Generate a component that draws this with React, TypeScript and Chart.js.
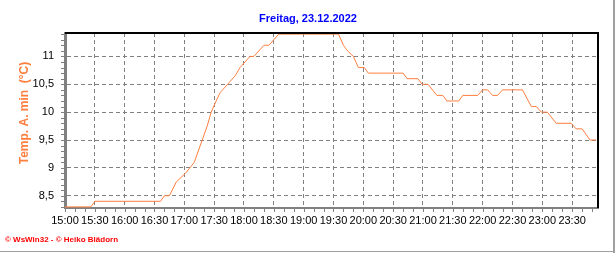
import React, { useEffect, useRef } from "react";
import { Chart, registerables } from "chart.js";

Chart.register(...registerables);

const titleText = "Freitag, 23.12.2022";
const yAxisTitle = "Temp. A. min  (°C)";
const footerText = "© WsWin32 - © Heiko Blädorn";

const startTime = "15:00";
const endTime = "23:56";

const times = [
  "15:00", "15:26", "15:30", "16:36", "16:40", "16:45", "16:52", "17:01", "17:10", "17:18",
  "17:23", "17:27", "17:32", "17:36", "17:41", "17:46", "17:51", "17:56", "18:01", "18:06",
  "18:10", "18:20", "18:25", "18:30", "18:35", "19:35", "19:40", "19:44", "19:50", "19:55",
  "20:01", "20:05", "20:40", "20:44", "20:55", "20:59", "21:05", "21:14", "21:20", "21:24",
  "21:36", "21:40", "21:55", "22:00", "22:05", "22:10", "22:15", "22:20", "22:40", "22:49",
  "22:54", "22:59", "23:05", "23:14", "23:29", "23:34", "23:40", "23:48", "23:54",
];

const tempMin = [
  8.3, 8.3, 8.4, 8.4, 8.5, 8.5, 8.75, 8.9, 9.1, 9.5,
  9.75, 10.0, 10.2, 10.35, 10.45, 10.55, 10.65, 10.8, 10.9, 11.0,
  11.0, 11.2, 11.2, 11.3, 11.4, 11.4, 11.2, 11.1, 11.0, 10.8,
  10.8, 10.7, 10.7, 10.6, 10.6, 10.5, 10.5, 10.3, 10.3, 10.2,
  10.2, 10.3, 10.3, 10.4, 10.4, 10.3, 10.3, 10.4, 10.4, 10.1,
  10.1, 10.0, 10.0, 9.8, 9.8, 9.7, 9.7, 9.5, 9.5,
];

const xTickLabels = [
  "15:00", "15:30", "16:00", "16:30", "17:00", "17:30", "18:00", "18:30", "19:00",
  "19:30", "20:00", "20:30", "21:00", "21:30", "22:00", "22:30", "23:00", "23:30",
];

const yTicks = [8.5, 9, 9.5, 10, 10.5, 11];
const yMin = 8.28;
const yMax = 11.42;

const toMin = (t: string) => {
  const [h, m] = t.split(":").map(Number);
  const [h0, m0] = startTime.split(":").map(Number);
  return h * 60 + m - (h0 * 60 + m0);
};

const FONT = "'Liberation Sans', Arial, sans-serif";
const ORANGE = "#ff7f3f";
const GRAY = "#808080";

const decorPlugin = {
  id: "decor",
  afterDraw(chart: any) {
    const { ctx, chartArea } = chart;
    const { left, right, top, bottom } = chartArea;
    const xs = chart.scales.x;
    const ys = chart.scales.y;
    ctx.save();
    ctx.strokeStyle = GRAY;
    ctx.lineWidth = 1;
    ctx.beginPath();
    for (let m = 0; m <= xs.max; m += 10) {
      const px = Math.round(xs.getPixelForValue(m)) + 0.5;
      ctx.moveTo(px, bottom);
      ctx.lineTo(px, bottom + 4);
    }
    for (let v = 8.3; v <= yMax + 1e-6; v += 0.1) {
      const py = Math.round(ys.getPixelForValue(v)) + 0.5;
      ctx.moveTo(left - 4, py);
      ctx.lineTo(left, py);
    }
    ctx.stroke();
    ctx.strokeStyle = "#000";
    ctx.lineWidth = 2;
    ctx.beginPath();
    ctx.moveTo(left, top);
    ctx.lineTo(right, top);
    ctx.lineTo(right, bottom);
    ctx.stroke();
    ctx.fillStyle = "#0000ff";
    ctx.font = `bold 11px ${FONT}`;
    ctx.textAlign = "center";
    ctx.textBaseline = "middle";
    ctx.fillText(titleText, 308, 19);
    ctx.save();
    ctx.translate(25, 113);
    ctx.rotate(-Math.PI / 2);
    ctx.fillStyle = ORANGE;
    ctx.font = `bold 12px ${FONT}`;
    ctx.fillText(yAxisTitle, 0, 0);
    ctx.restore();
    ctx.fillStyle = "#ff0000";
    ctx.font = `bold 8px ${FONT}`;
    ctx.textAlign = "left";
    ctx.fillText(footerText, 5, 239.5);
    ctx.fillStyle = "#a0a0a0";
    ctx.fillRect(613, 0, 2, 253);
    ctx.fillRect(0, 251, 615, 1);
    ctx.restore();
  },
};

export default function App() {
  const ref = useRef<HTMLCanvasElement>(null);
  useEffect(() => {
    if (!ref.current) return;
    const data = times.map((t, i) => ({ x: toMin(t), y: tempMin[i] }));
    const chart = new Chart(ref.current, {
      type: "line",
      data: {
        datasets: [
          {
            data,
            borderColor: ORANGE,
            borderWidth: 1,
            pointRadius: 0,
            tension: 0,
            fill: false,
          },
        ],
      },
      plugins: [decorPlugin],
      options: {
        animation: false,
        responsive: false,
        maintainAspectRatio: false,
        layout: { padding: { top: 33, right: 18, left: 0, bottom: 0 } },
        plugins: { legend: { display: false }, title: { display: false }, tooltip: { enabled: false } },
        scales: {
          x: {
            type: "linear",
            min: 0,
            max: toMin(endTime),
            afterBuildTicks: (s: any) => {
              s.ticks = xTickLabels.map((l) => ({ value: toMin(l) }));
            },
            afterFit: (s: any) => {
              s.height = 45;
            },
            ticks: {
              autoSkip: false,
              maxRotation: 0,
              padding: 6,
              color: "#000",
              font: { family: FONT, size: 11 },
              callback: (v: any, i: number) => xTickLabels[i],
            },
            grid: { color: GRAY, lineWidth: 1, drawTicks: false },
            border: { color: GRAY, width: 2, dash: [4, 3] },
          },
          y: {
            min: yMin,
            max: yMax,
            afterBuildTicks: (s: any) => {
              s.ticks = yTicks.map((v) => ({ value: v }));
            },
            afterFit: (s: any) => {
              s.width = 65;
            },
            ticks: {
              padding: 11,
              color: "#000",
              font: { family: FONT, size: 11 },
              callback: (v: any) => String(v).replace(".", ","),
            },
            grid: { color: GRAY, lineWidth: 1, drawTicks: false },
            border: { color: GRAY, width: 3, dash: [4, 3] },
          },
        },
      },
    });
    return () => chart.destroy();
  }, []);
  return (
    <div style={{ position: "absolute", left: 0, top: 0, width: 616, height: 253, background: "#fff" }}>
      <canvas ref={ref} width={616} height={253} style={{ display: "block" }} />
    </div>
  );
}
